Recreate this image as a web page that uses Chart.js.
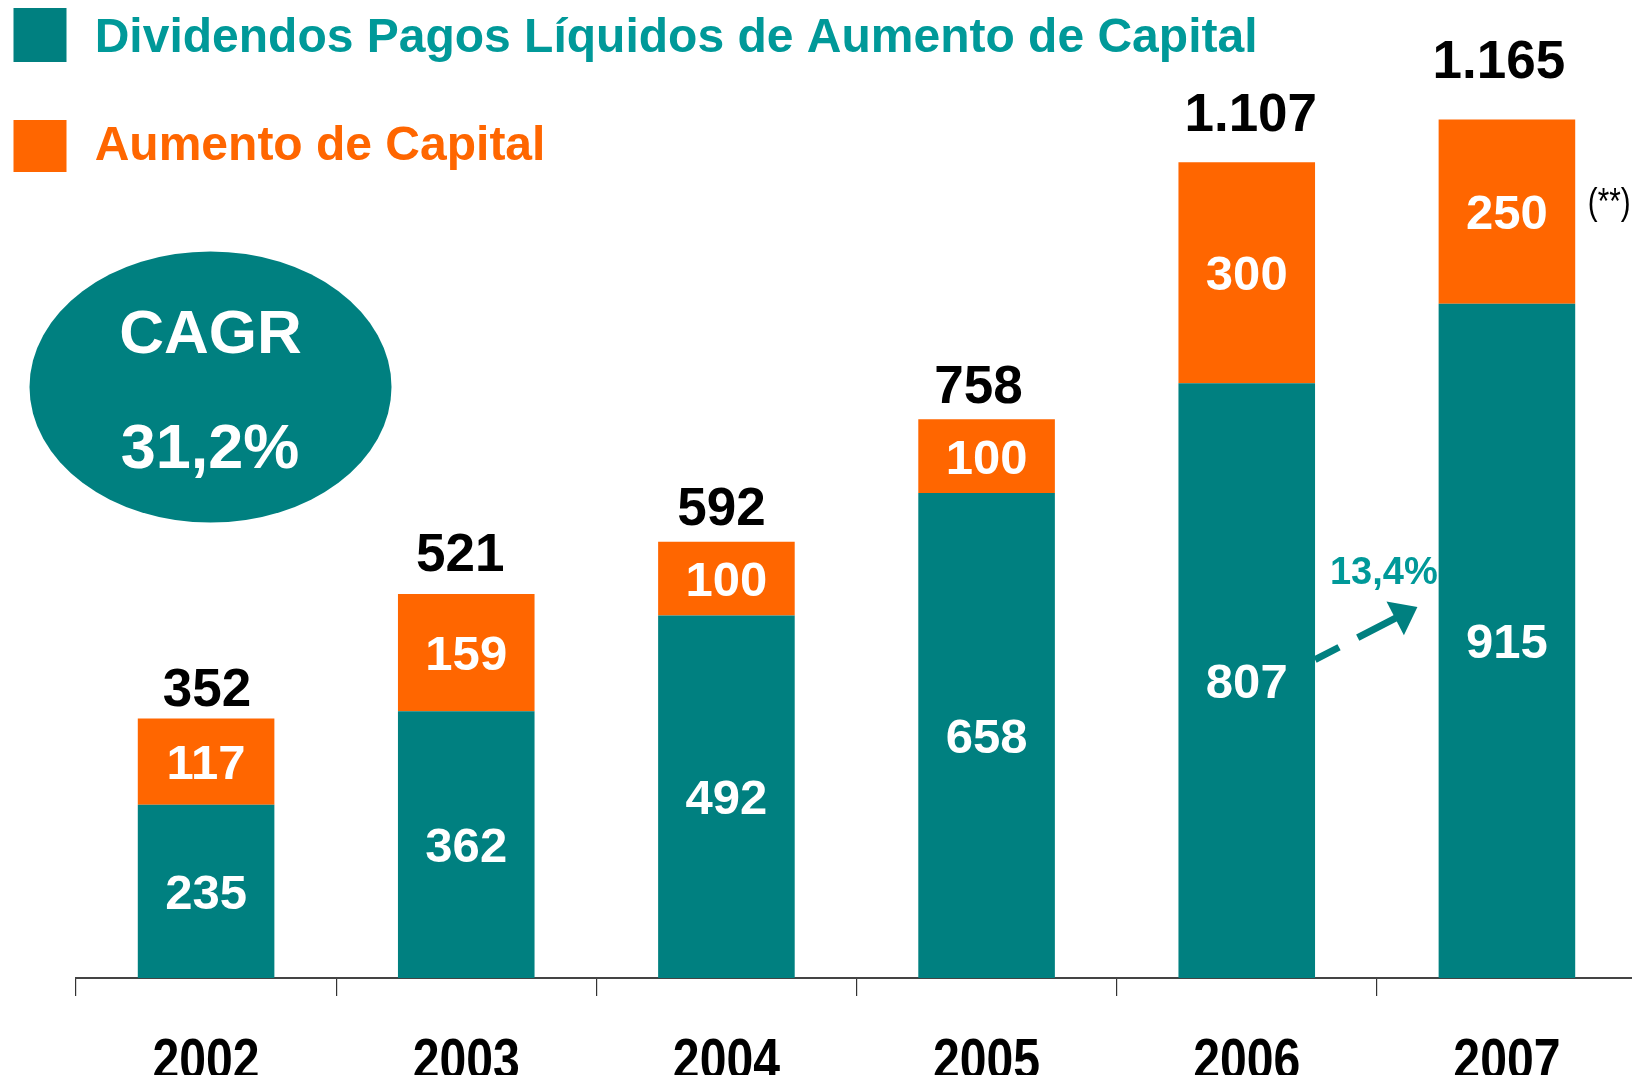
<!DOCTYPE html>
<html>
<head>
<meta charset="utf-8">
<script src="https://cdn.jsdelivr.net/npm/chart.js@4/dist/chart.umd.min.js"></script>
<style>
  html, body { margin: 0; padding: 0; background: #ffffff; overflow: hidden; }
  #wrap { position: relative; width: 1637px; height: 1075px; }
</style>
</head>
<body>
<div id="wrap"><canvas id="c"></canvas></div>
<script>
// ---- data ----
const categories = ['2002', '2003', '2004', '2005', '2006', '2007'];
const dividendosLiquidos = [235, 362, 492, 658, 807, 915];
const aumentoCapital = [117, 159, 100, 100, 300, 250];
const seriesNames = ['Dividendos Pagos Líquidos de Aumento de Capital', 'Aumento de Capital'];
const cagrLines = ['CAGR', '31,2%'];
const growthLabel = '13,4%';
const footnoteLabel = '(**)';

// ---- styles ----
const TEAL = '#008080';
const TEAL_TEXT = '#009999';
const ORANGE = '#FF6600';
const FONT = "'Liberation Sans', Arial, Helvetica, sans-serif";
// per-label nudges of the hand-placed total labels (px): [dx, gap above bar top]
const totalNudge = [[1, 32], [-6, 42], [-5, 36], [-8, 35], [4, 50], [-8, 60]];

function fmtThousands(v) {
  const s = String(v);
  return s.length > 3 ? s.slice(0, s.length - 3) + '.' + s.slice(s.length - 3) : s;
}

// draws text whose cap-height centre sits at cy; sx < 1 condenses horizontally
function textCentered(ctx, txt, x, cy, size, weight, color, align, sx) {
  sx = sx || 1;
  ctx.save();
  ctx.font = weight + ' ' + size + 'px ' + FONT;
  ctx.fillStyle = color;
  ctx.textAlign = align || 'center';
  ctx.textBaseline = 'alphabetic';
  ctx.translate(x, cy + size * 0.716 / 2);
  ctx.scale(sx, 1);
  ctx.fillText(txt, 0, 0);
  ctx.restore();
}

const overlay = {
  id: 'overlay',
  afterDatasetsDraw(chart) {
    const ctx = chart.ctx;
    const xs = chart.scales.x, ys = chart.scales.y;
    const m0 = chart.getDatasetMeta(0), m1 = chart.getDatasetMeta(1);
    const catW = xs.width / categories.length;

    // segment value labels
    [m0, m1].forEach((meta, di) => {
      const vals = chart.data.datasets[di].data;
      meta.data.forEach((el, i) => {
        const cy = (el.y + el.base) / 2;
        textCentered(ctx, String(vals[i]), el.x, cy, 49, 'bold', '#ffffff');
      });
    });

    // totals
    m1.data.forEach((el, i) => {
      const total = dividendosLiquidos[i] + aumentoCapital[i];
      const n = totalNudge[i];
      textCentered(ctx, fmtThousands(total), el.x + n[0], el.y - n[1], 53, 'bold', '#000000');
    });

    // growth arrow between 2006 and 2007
    const el4 = m0.data[4];
    const sx = el4.x + el4.width / 2;
    const sy = ys.getPixelForValue(432);
    const tx = xs.getPixelForValue(4) + 0.656 * catW;
    const ty = ys.getPixelForValue(503.5);
    const ang = Math.atan2(ty - sy, tx - sx);
    const headLen = 25, headHalf = 19;
    const bx = tx - headLen * Math.cos(ang), by = ty - headLen * Math.sin(ang);
    ctx.save();
    ctx.strokeStyle = TEAL;
    ctx.fillStyle = TEAL;
    ctx.lineWidth = 7;
    ctx.setLineDash([27, 21, 200, 0]);
    ctx.beginPath();
    ctx.moveTo(sx, sy);
    ctx.lineTo(bx + 2 * Math.cos(ang), by + 2 * Math.sin(ang));
    ctx.stroke();
    ctx.setLineDash([]);
    ctx.beginPath();
    ctx.moveTo(tx, ty);
    ctx.lineTo(bx + headHalf * Math.sin(ang), by - headHalf * Math.cos(ang));
    ctx.lineTo(bx - headHalf * Math.sin(ang), by + headHalf * Math.cos(ang));
    ctx.closePath();
    ctx.fill();
    ctx.restore();
    textCentered(ctx, growthLabel, xs.getPixelForValue(4) + 0.527 * catW, ys.getPixelForValue(553), 38, 'bold', TEAL_TEXT);

    // footnote next to 2007 bar
    const el5 = m1.data[5];
    textCentered(ctx, footnoteLabel, el5.x + el5.width / 2 + 34, ys.getPixelForValue(1055), 37, 'normal', '#000000', 'center', 0.8);

    // category labels (condensed bold), positioned by the x scale
    xs.ticks.forEach((t, i) => {
      const lbl = chart.data.labels[i];
      textCentered(ctx, lbl, xs.getPixelForTick(i), xs.bottom + 58 * 0.716 / 2 - 97 + 59, 58, 'bold', '#000000', 'center', 0.83);
    });
  },
  afterDraw(chart) {
    const ctx = chart.ctx;
    // legend
    const ds = chart.data.datasets;
    const rows = [{ y: 8, h: 54, cy: 34.5 }, { y: 120, h: 52, cy: 142.6 }];
    ds.forEach((d, i) => {
      const r = rows[i];
      ctx.save();
      ctx.fillStyle = d.backgroundColor;
      ctx.fillRect(13.5, r.y, 53, r.h);
      ctx.restore();
      textCentered(ctx, d.label, 94.7, r.cy, 48, 'bold', i === 0 ? TEAL_TEXT : ORANGE, 'left');
    });
    // CAGR bubble
    ctx.save();
    ctx.fillStyle = TEAL;
    ctx.beginPath();
    ctx.ellipse(210.5, 387, 181, 135.5, 0, 0, Math.PI * 2);
    ctx.fill();
    ctx.restore();
    textCentered(ctx, cagrLines[0], 210.5, 330.5, 62, 'bold', '#ffffff');
    textCentered(ctx, cagrLines[1], 210, 445.5, 63, 'bold', '#ffffff');
  }
};

new Chart(document.getElementById('c'), {
  type: 'bar',
  data: {
    labels: categories,
    datasets: [
      { label: seriesNames[0], data: dividendosLiquidos, backgroundColor: TEAL, borderWidth: 0,
        barPercentage: 0.525, categoryPercentage: 1.0 },
      { label: seriesNames[1], data: aumentoCapital, backgroundColor: ORANGE, borderWidth: 0,
        barPercentage: 0.525, categoryPercentage: 1.0 }
    ]
  },
  options: {
    responsive: true,
    maintainAspectRatio: false,
    animation: false,
    layout: { padding: { left: 76, right: 0, top: 0, bottom: 0 } },
    plugins: { legend: { display: false }, tooltip: { enabled: false } },
    scales: {
      x: {
        stacked: true,
        grid: { display: true, drawOnChartArea: false, drawTicks: true, tickLength: 18,
                color: '#333333', lineWidth: 1.2, offset: true },
        border: { display: true, color: '#444444', width: 2 },
        ticks: { display: false },
        afterFit(scale) { scale.height = 97; }
      },
      y: { stacked: true, display: false, min: 0, max: 1327 }
    }
  },
  plugins: [overlay]
});
</script>
</body>
</html>
